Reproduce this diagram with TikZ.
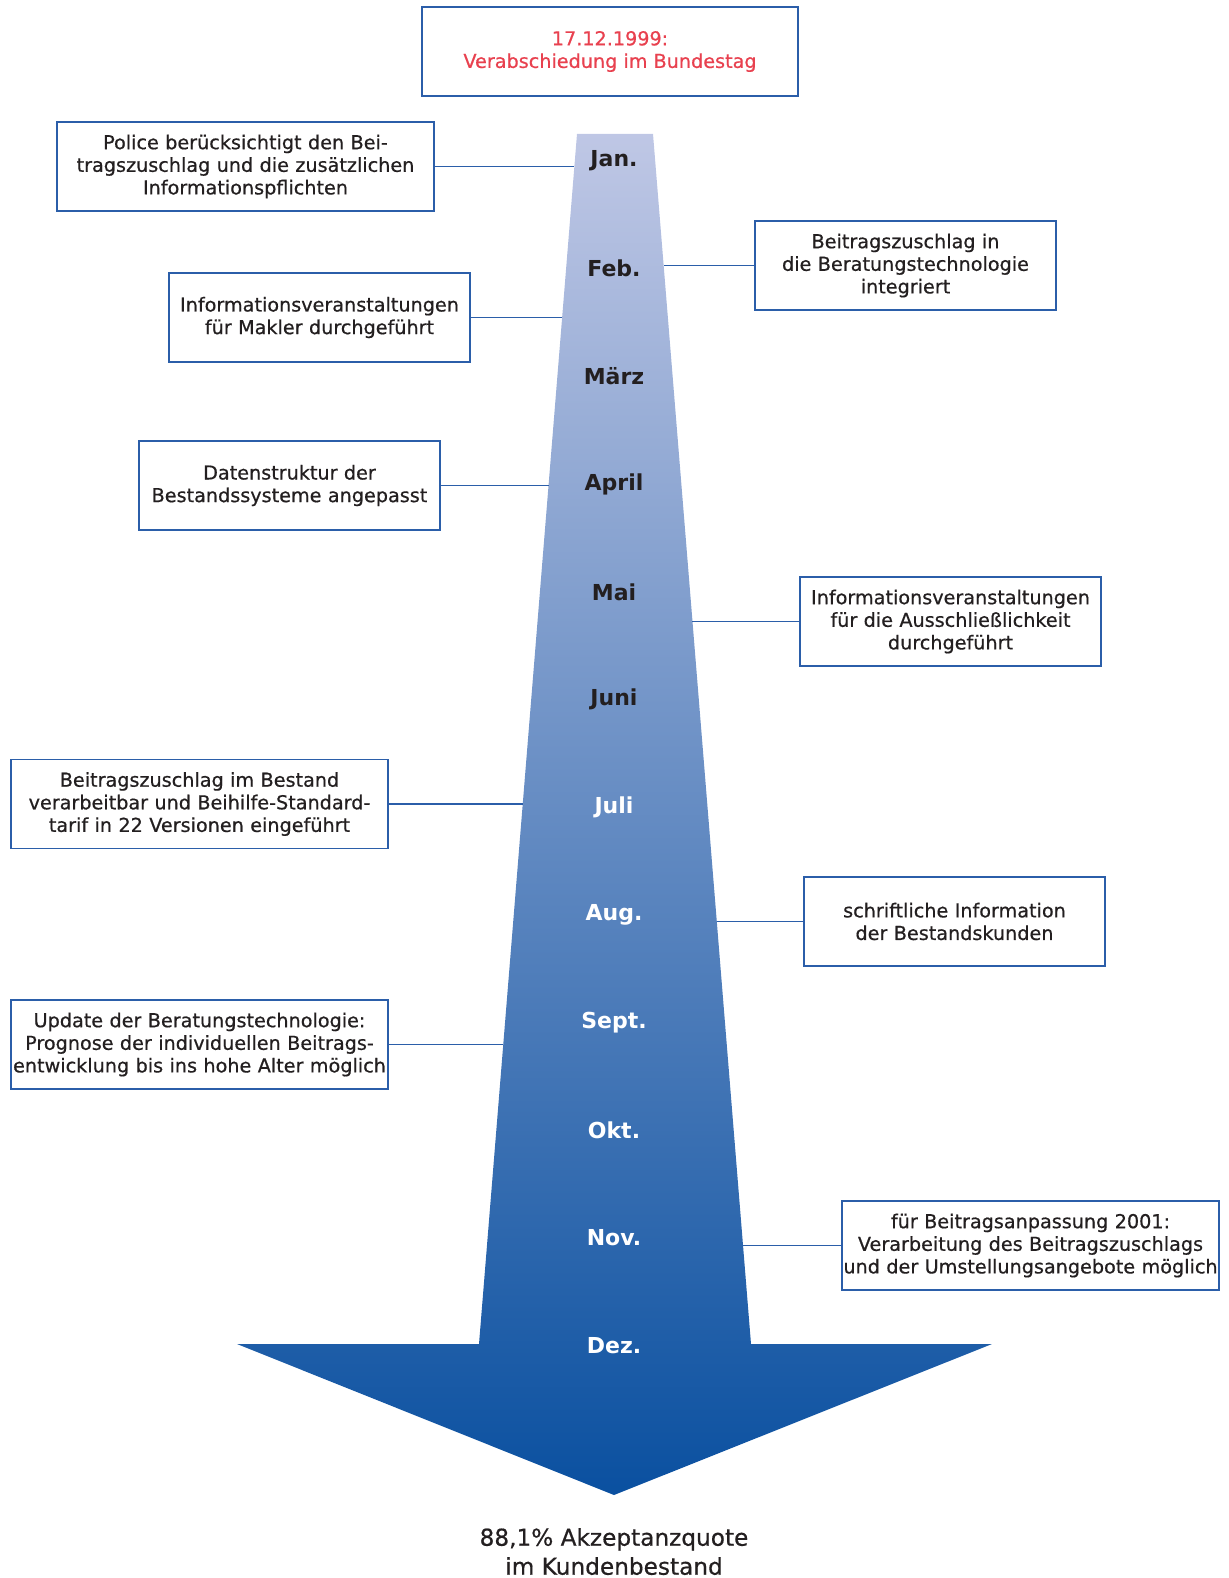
\documentclass[tikz,border=0pt]{standalone}
\usepackage{fontspec}
\setmainfont[FakeBold=0.6]{DejaVu Sans}
\newfontfamily\monthfont{DejaVu Sans}
\usetikzlibrary{calc}
\definecolor{framec}{HTML}{2B5EA9}
\definecolor{redc}{HTML}{E8414F}
\definecolor{textc}{HTML}{231F20}
\definecolor{topc}{HTML}{BFC7E5}
\definecolor{botc}{HTML}{0A50A0}
\tikzset{
  infobox/.style={draw=framec, line width=0.75pt, fill=white, align=center, inner sep=0pt,
    minimum height=44.5pt, text=textc, font=\fontsize{9.6}{11.3}\selectfont},
  widebox/.style={infobox, minimum width=188.5pt, text width=188pt},
  narrowbox/.style={infobox, minimum width=150.5pt, text width=150pt},
  link/.style={draw=framec, line width=0.6pt},
  monthdark/.style={font=\monthfont\bfseries\fontsize{11}{13}\selectfont, text=textc},
  monthlight/.style={font=\monthfont\bfseries\fontsize{11}{13}\selectfont, text=white},
}
\begin{document}
\begin{tikzpicture}[x=0.5pt, y=-0.5pt]
\useasboundingbox (0,0) rectangle (1228,1578);
% arrow
\coordinate (sl1) at (577,134);
\coordinate (sl2) at (479,1344);
\coordinate (sr1) at (653,134);
\coordinate (sr2) at (751,1344);
\shade[top color=topc, bottom color=botc]
  (sl1) -- (sr1) -- (sr2) -- (992,1344) -- (614,1495) -- (237,1344) -- (sl2) -- cycle;
% months
\node[monthdark]  (m1)  at (614,161)  {Jan.};
\node[monthdark]  (m2)  at (614,268)  {Feb.};
\node[monthdark]  (m3)  at (614,376)  {März};
\node[monthdark]  (m4)  at (614,484)  {April};
\node[monthdark]  (m5)  at (614,592)  {Mai};
\node[monthdark]  (m6)  at (614,699)  {Juni};
\node[monthlight] (m7)  at (614,807)  {Juli};
\node[monthlight] (m8)  at (614,915)  {Aug.};
\node[monthlight] (m9)  at (614,1023) {Sept.};
\node[monthlight] (m10) at (614,1130) {Okt.};
\node[monthlight] (m11) at (614,1238) {Nov.};
\node[monthlight] (m12) at (614,1346) {Dez.};
% top box
\node[draw=framec, line width=0.75pt, minimum width=188pt, minimum height=44.5pt, align=center,
  text=redc, font=\fontsize{9.6}{11.3}\selectfont] (top) at (610,51.5)
  {17.12.1999:\\Verabschiedung im Bundestag};
% boxes
\node[widebox]   (b1) at (245.5,166.5) {Police berücksichtigt den Bei-\\tragszuschlag und die zusätzlichen\\Informationspflichten};
\node[narrowbox] (b2) at (905.5,265.5) {Beitragszuschlag in\\die Beratungstechnologie\\integriert};
\node[narrowbox] (b3) at (319.5,317.5) {Informationsveranstaltungen\\für Makler durchgeführt};
\node[narrowbox] (b4) at (289.5,485.5) {Datenstruktur der\\Bestandssysteme angepasst};
\node[narrowbox] (b5) at (950.5,621.5) {Informationsveranstaltungen\\für die Ausschließlichkeit\\durchgeführt};
\node[widebox]   (b6) at (199.5,804)   {Beitragszuschlag im Bestand\\verarbeitbar und Beihilfe-Standard-\\tarif in 22 Versionen eingeführt};
\node[narrowbox] (b7) at (954.5,921.5) {schriftliche Information\\der Bestandskunden};
\node[widebox]   (b8) at (199.5,1044.5) {Update der Beratungstechnologie:\\Prognose der individuellen Beitrags-\\entwicklung bis ins hohe Alter möglich};
\node[widebox]   (b9) at (1030.5,1245.5) {für Beitragsanpassung 2001:\\Verarbeitung des Beitragszuschlags\\und der Umstellungsangebote möglich};
% connector ends on arrow edges
\coordinate (c1) at ($(sl1)!0.0264!(sl2)$);
\coordinate (c2) at ($(sr1)!0.1091!(sr2)$);
\coordinate (c3) at ($(sl1)!0.1512!(sl2)$);
\coordinate (c4) at ($(sl1)!0.2909!(sl2)$);
\coordinate (c5) at ($(sr1)!0.4025!(sr2)$);
\coordinate (c6) at ($(sl1)!0.5529!(sl2)$);
\coordinate (c7) at ($(sr1)!0.6504!(sr2)$);
\coordinate (c8) at ($(sl1)!0.7521!(sl2)$);
\coordinate (c9) at ($(sr1)!0.9182!(sr2)$);
\draw[link] (b1.east) -- (b1.east -| c1);
\draw[link] (b2.west) -- (b2.west -| c2);
\draw[link] (b3.east) -- (b3.east -| c3);
\draw[link] (b4.east) -- (b4.east -| c4);
\draw[link] (b5.west) -- (b5.west -| c5);
\draw[link] (b6.east) -- (b6.east -| c6);
\draw[link] (b7.west) -- (b7.west -| c7);
\draw[link] (b8.east) -- (b8.east -| c8);
\draw[link] (b9.west) -- (b9.west -| c9);
% bottom text
\node[align=center, text=textc, font=\fontsize{11.6}{14.5}\selectfont, anchor=north] (res) at (614,1521)
  {88,1\% Akzeptanzquote\\im Kundenbestand};
\end{tikzpicture}
\end{document}
